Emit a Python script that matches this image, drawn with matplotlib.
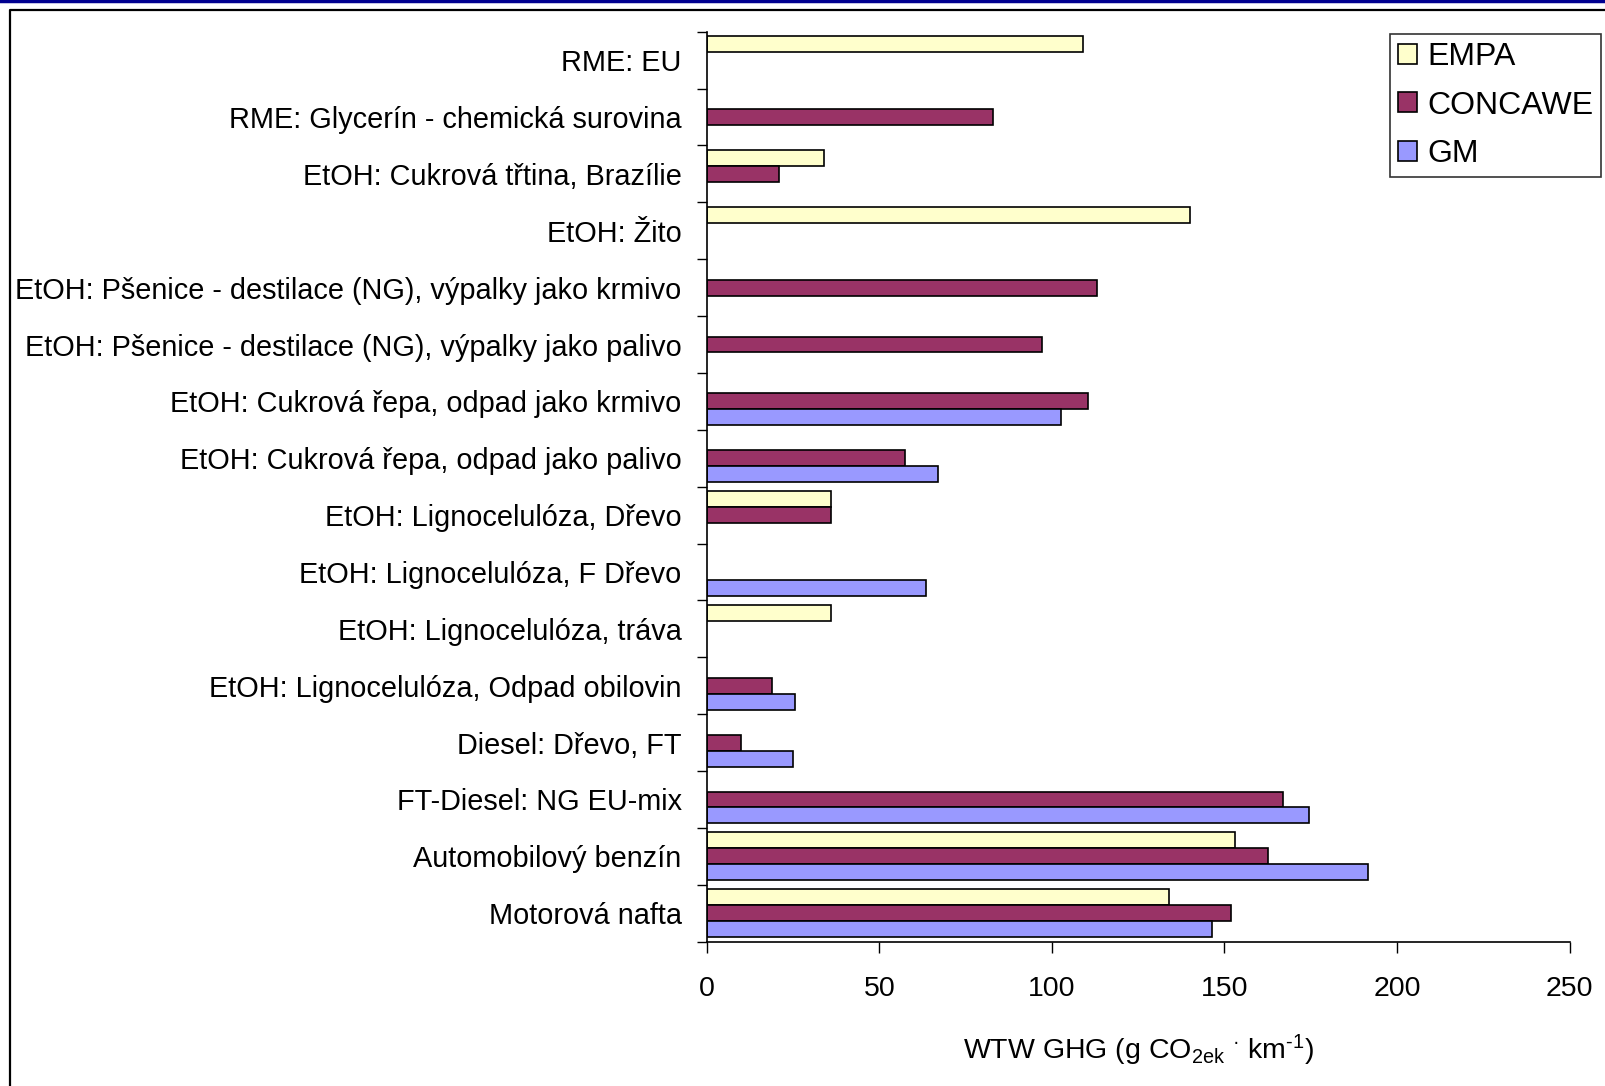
import numpy as np
import matplotlib
matplotlib.use("Agg")
import matplotlib.pyplot as plt
from matplotlib.lines import Line2D

plt.rcParams['font.family'] = ['Liberation Sans', 'DejaVu Sans']
plt.rcParams['mathtext.default'] = 'regular'
plt.rcParams['axes.unicode_minus'] = False

categories = [
    "RME: EU",
    "RME: Glycerín - chemická surovina",
    "EtOH: Cukrová třtina, Brazílie",
    "EtOH: Žito",
    "EtOH: Pšenice - destilace (NG), výpalky jako krmivo",
    "EtOH: Pšenice - destilace (NG), výpalky jako palivo",
    "EtOH: Cukrová řepa, odpad jako krmivo",
    "EtOH: Cukrová řepa, odpad jako palivo",
    "EtOH: Lignocelulóza, Dřevo",
    "EtOH: Lignocelulóza, F Dřevo",
    "EtOH: Lignocelulóza, tráva",
    "EtOH: Lignocelulóza, Odpad obilovin",
    "Diesel: Dřevo, FT",
    "FT-Diesel: NG EU-mix",
    "Automobilový benzín",
    "Motorová nafta",
]
nan = np.nan
empa = [109, nan, 34, 140, nan, nan, nan, nan, 36, nan, 36, nan, nan, nan, 153, 134]
concawe = [nan, 83, 21, nan, 113, 97, 110.5, 57.5, 36, nan, nan, 19, 10, 167, 162.5, 152]
gm = [nan, nan, nan, nan, nan, nan, 102.5, 67, nan, 63.5, nan, 25.5, 25, 174.5, 191.5, 146.5]

series = [("EMPA", empa, "#FFFFCC"),
          ("CONCAWE", concawe, "#993366"),
          ("GM", gm, "#9999FF")]

fig = plt.figure(figsize=(16.05, 10.86), dpi=100)
ax = fig.add_axes([0.4403, 0.1329, 0.978 - 0.4403, 0.9708 - 0.1329])

y = np.arange(len(categories))
h = 0.28
for i, (name, vals, color) in enumerate(series):
    ax.barh(y + (i - 1) * h, vals, height=h, color=color,
            edgecolor="black", linewidth=1.2, label=name)

ax.set_ylim(len(categories) - 0.5, -0.5)
ax.set_xlim(0, 250)
ax.set_xticks([0, 50, 100, 150, 200, 250])
ax.set_yticks(np.arange(len(categories) + 1) - 0.5)
ax.set_yticklabels([])
ax.set_yticks(y, minor=True)
ax.set_yticklabels(categories, minor=True)
ax.tick_params(axis="y", which="major", direction="out", length=7, width=1)
ax.tick_params(axis="y", which="minor", length=0, pad=18, labelsize=20.8)
ax.tick_params(axis="x", direction="out", length=8, width=1, pad=17, labelsize=20.5)

for s in ["top", "right"]:
    ax.spines[s].set_visible(False)
for s in ["left", "bottom"]:
    ax.spines[s].set_linewidth(1.2)

ax.set_xlabel("WTW GHG (g CO$_{2ek}$ $^{\u00b7}$ km$^{\u2010 1}$)", fontsize=20.5, labelpad=22)

leg = ax.legend(loc="upper right", bbox_to_anchor=(0.9975, 0.9687),
                bbox_transform=fig.transFigure, fontsize=23,
                frameon=True, fancybox=False, borderpad=0.25,
                handlelength=0.6, handleheight=0.6, handletextpad=0.3,
                labelspacing=0.58, borderaxespad=0)
leg.get_frame().set_edgecolor("black")
leg.get_frame().set_linewidth(1.2)

# outer frame and blue rule at the top
fig.add_artist(Line2D([0, 1], [0.9995, 0.9995], color="#000090", linewidth=2.5,
                      transform=fig.transFigure))
fig.add_artist(Line2D([10 / 1605, 10 / 1605, 1.0], [0.0, 1 - 10 / 1086, 1 - 10 / 1086],
                      color="black", linewidth=1.6, transform=fig.transFigure))

fig.savefig("out.png", dpi=100)
